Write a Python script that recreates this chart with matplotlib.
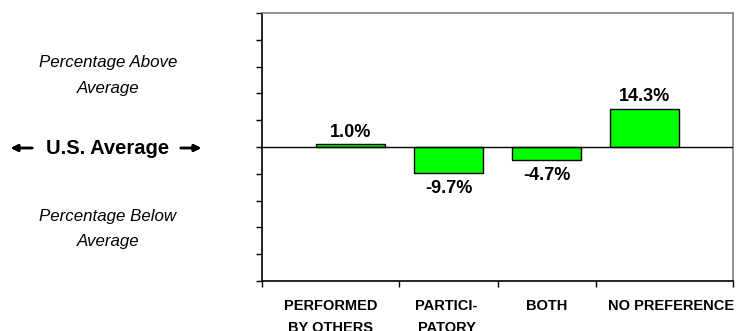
import matplotlib
matplotlib.use("Agg")
import matplotlib.pyplot as plt

plt.rcParams['font.family'] = ['Liberation Sans', 'DejaVu Sans']

# data
categories = ["PERFORMED\nBY OTHERS", "PARTICI-\nPATORY", "BOTH", "NO PREFERENCE"]
values = [1.0, -9.7, -4.7, 14.3]
value_labels = ["1.0%", "-9.7%", "-4.7%", "14.3%"]

W, H = 744, 331
fig = plt.figure(figsize=(W / 100, H / 100), dpi=100)
ax = fig.add_axes([262 / W, (H - 281) / H, 471 / W, 268 / H])

xs = list(range(len(values)))
ax.bar(xs, values, width=0.7, color="#00ff00", edgecolor="black", linewidth=1, zorder=3)
ax.axhline(0, color="black", linewidth=1, zorder=4)

ax.set_xlim(-0.9, 3.9)
ax.set_ylim(-50, 50)
ax.set_yticks(range(-50, 51, 10))
ax.set_yticklabels([])
ax.set_xticks([-0.9, 0.5, 1.5, 2.5, 3.9])
ax.set_xticklabels([])
ax.tick_params(direction="out", length=4, width=1, color="black")

for side in ["left", "bottom"]:
    ax.spines[side].set_color("black")
    ax.spines[side].set_linewidth(1.2)
for side in ["top", "right"]:
    ax.spines[side].set_color("#808080")
    ax.spines[side].set_linewidth(1.2)

# value labels
for x, v, lab in zip(xs, values, value_labels):
    if v >= 0:
        ax.annotate(lab, (x, v), xytext=(0, 2.5), textcoords="offset points",
                    ha="center", va="bottom", fontsize=13, fontweight="bold")
    else:
        ax.annotate(lab, (x, v), xytext=(0, -5), textcoords="offset points",
                    ha="center", va="top", fontsize=13, fontweight="bold")

# category labels, centred between the axis tick marks
# (second lines run off the bottom edge, as in the original)
label_x = [-0.2, 0.98, 2.0, 3.27]
for x, lab in zip(label_x, categories):
    ax.annotate(lab, (x, 0), xycoords=("data", "axes fraction"),
                xytext=(0, -13), textcoords="offset points",
                ha="center", va="top", fontsize=10.5, fontweight="bold",
                linespacing=1.7)

# left side annotations
fig.text(108 / W, 1 - 75.5 / H, "Percentage Above\nAverage", ha="center", va="center",
         fontsize=12.2, style="italic", linespacing=1.9)
fig.text(108 / W, 1 - 229 / H, "Percentage Below\nAverage", ha="center", va="center",
         fontsize=12.2, style="italic", linespacing=1.9)
fig.text(108 / W, 1 - 148 / H, "U.S. Average", ha="center", va="center",
         fontsize=14.5, fontweight="bold")
fig.add_artist(plt.annotate("", xy=(8 / W, 1 - 148 / H), xytext=(35 / W, 1 - 148 / H),
                            xycoords="figure fraction",
                            arrowprops=dict(arrowstyle="-|>", color="black", lw=1.8,
                                            mutation_scale=10)))
fig.add_artist(plt.annotate("", xy=(204 / W, 1 - 148 / H), xytext=(178 / W, 1 - 148 / H),
                            xycoords="figure fraction",
                            arrowprops=dict(arrowstyle="-|>", color="black", lw=1.8,
                                            mutation_scale=10)))

fig.savefig("out.png", dpi=100)
